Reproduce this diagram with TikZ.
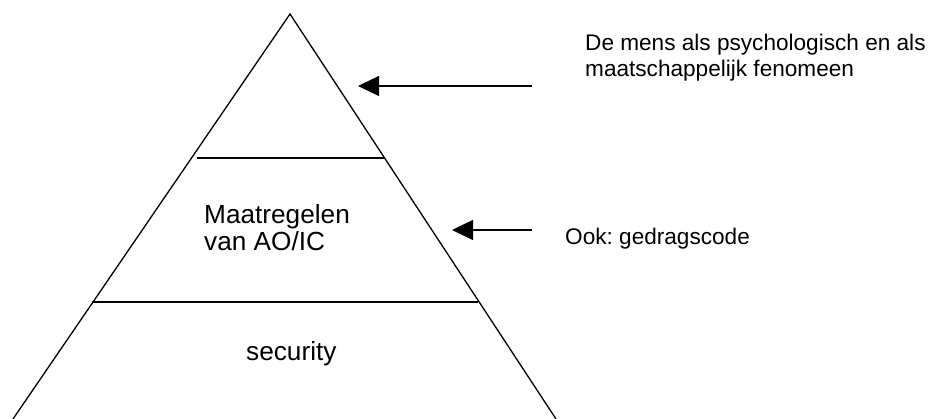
\documentclass[tikz,border=0pt]{standalone}
\usepackage{fontspec}
\setmainfont{Liberation Sans}
\usetikzlibrary{arrows.meta}
\begin{document}
\frenchspacing
\begin{tikzpicture}[x=1pt,y=-1pt,
  edge/.style={line width=1.3pt},
  pointer/.style={line width=1.3pt,-{Triangle[length=21pt,width=20pt]}},
  big/.style={inner sep=0pt,anchor=base west,font=\fontsize{26.2}{30}\selectfont},
  side/.style={inner sep=0pt,anchor=base west,font=\fontsize{22.6}{26}\selectfont}]
\useasboundingbox (0,0) rectangle (928,419);
% pyramid
\coordinate (apex) at (290,14);
\coordinate (bl) at (13,419);
\coordinate (br) at (556,419);
\draw[edge] (bl) -- (apex) -- (br);
\coordinate (l1a) at (197,158);
\coordinate (l1b) at (384,158);
\coordinate (l2a) at (92,302);
\coordinate (l2b) at (478,302);
\draw[edge] (l1a) -- (l1b);
\draw[edge] (l2a) -- (l2b);
% pyramid labels
\node[big] (m1) at (204,224) {Maatregelen};
\node[big] (m2) at (204,251) {van AO/IC};
\node[big] (sec) at (246,360) {security};
% side labels
\node[side] (t1) at (585,51) {De mens als psychologisch en als};
\node[side] (t2) at (585,77) {maatschappelijk fenomeen};
\node[side] (t3) at (565,245) {Ook: gedragscode};
% arrows
\coordinate (a1s) at (532,86);
\coordinate (a1e) at (358,86);
\coordinate (a2s) at (532,230);
\coordinate (a2e) at (452,230);
\draw[pointer] (a1s) -- (a1e);
\draw[pointer] (a2s) -- (a2e);
\end{tikzpicture}
\end{document}
